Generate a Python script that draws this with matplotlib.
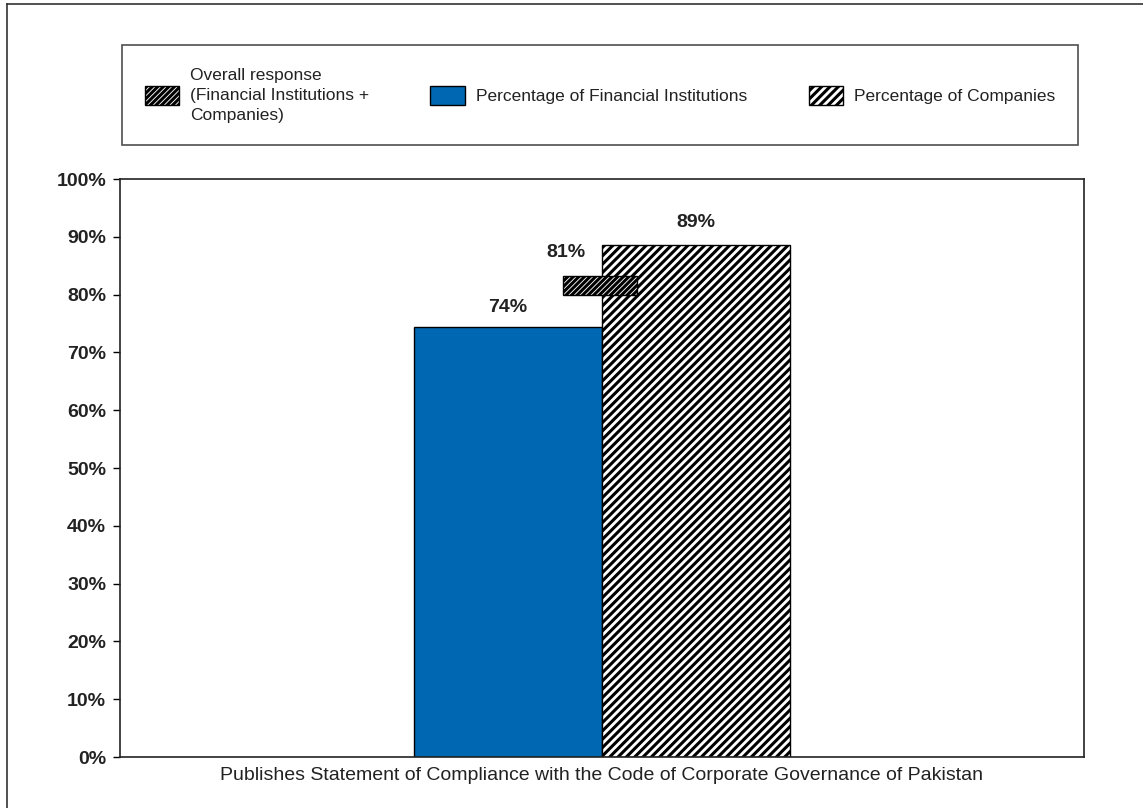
import matplotlib.pyplot as plt
from matplotlib.patches import Rectangle
from matplotlib.lines import Line2D

plt.rcParams['font.family'] = ['Liberation Sans', 'DejaVu Sans']
plt.rcParams['hatch.linewidth'] = 2.2

# data
category = 'Publishes Statement of Compliance with the Code of Corporate Governance of Pakistan'
fin_inst = 74.4
companies = 88.6
overall = 81
labels = ['74%', '89%', '81%']
yticks = list(range(0, 101, 10))

blue = '#0068B3'
txt = '#222222'

fig = plt.figure(figsize=(11.43, 8.08), dpi=100)
ax = fig.add_axes([120/1143, 1-757/808, 964/1143, 578/808])

w = 0.195
ax.bar(-w/2, fin_inst, width=w, color=blue, edgecolor='black', linewidth=1)
ax.bar(w/2, companies, width=w, color='white', edgecolor='black', hatch='////', linewidth=1)
# overall response shown as a small floating marker
ax.bar(-0.002, 3.2, bottom=overall - 1, width=0.077, color='white',
       edgecolor='black', hatch='//////', linewidth=1)

ax.text(-w/2, fin_inst + 3.3, labels[0], ha='center', va='center', fontsize=14, fontweight='bold', color=txt)
ax.text(w/2, companies + 3.8, labels[1], ha='center', va='center', fontsize=14, fontweight='bold', color=txt)
ax.text(-0.037, overall + 6.2, labels[2], ha='center', va='center', fontsize=14, fontweight='bold', color=txt)

ax.set_xlim(-0.5, 0.5)
ax.set_ylim(0, 100)
ax.set_yticks(yticks)
ax.set_yticklabels([f'{t}%' for t in yticks], fontsize=14, fontweight='bold', color=txt)
ax.set_xticks([])
ax.tick_params(axis='y', direction='out', length=5, width=1, pad=5)
for s in ax.spines.values():
    s.set_linewidth(1.2)
    s.set_color(txt)
ax.set_xlabel(category, fontsize=14, color=txt, labelpad=7)

handles = [
    Rectangle((0, 0), 1, 1, facecolor='white', edgecolor='black', hatch='//////'),
    Rectangle((0, 0), 1, 1, facecolor=blue, edgecolor='black'),
    Rectangle((0, 0), 1, 1, facecolor='white', edgecolor='black', hatch='////'),
]
names = ['Overall response\n(Financial Institutions +\nCompanies)',
         'Percentage of Financial Institutions',
         'Percentage of Companies']
leg = fig.legend(handles, names, ncol=3, mode='expand', loc='upper left',
                 bbox_to_anchor=(122/1143, 1-146/808, 956/1143, 101/808),
                 fontsize=12.5, frameon=True, fancybox=False, edgecolor=txt,
                 handlelength=2.0, handleheight=1.32, handletextpad=0.63,
                 borderpad=1.3, borderaxespad=0, labelspacing=0.3)
leg.get_frame().set_linewidth(1.2)
for t in leg.get_texts():
    t.set_color(txt)
    t.set_linespacing(1.42)

# outer frame (top and left edges)
fig.add_artist(Line2D([7/1143, 7/1143], [0, 1-4/808], transform=fig.transFigure, color='#333333', lw=1.2))
fig.add_artist(Line2D([7/1143, 1], [1-4/808, 1-4/808], transform=fig.transFigure, color='#333333', lw=1.2))

fig.savefig('out.png', dpi=100, facecolor='white')
